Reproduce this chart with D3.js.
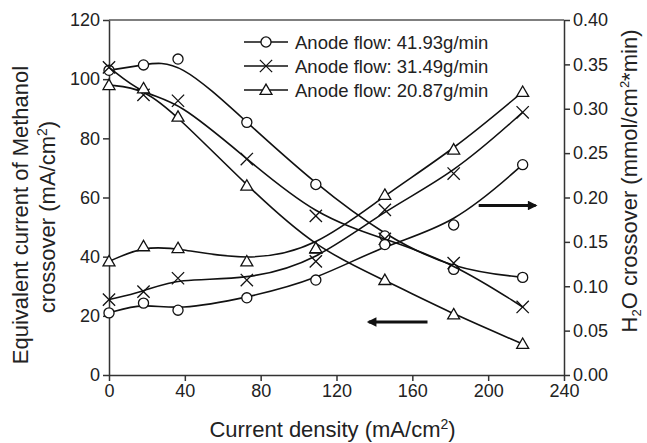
<!DOCTYPE html>
<html lang="en">
<head>
<meta charset="UTF-8">
<title>Methanol and H2O crossover</title>
<script src="https://d3js.org/d3.v7.min.js"></script>
<style>
    body { margin: 0; background: #fff; font-family: 'Liberation Sans', Arial, sans-serif; }
    .axis path, .axis line { stroke: #333; stroke-width: 1.5px; }
    .axis text { font-size: 18px; fill: #222; font-family: 'Liberation Sans', Arial, sans-serif; }
    .curve { fill: none; stroke: #111; stroke-width: 1.6px; }
    .title { font-size: 22px; fill: #222; }
</style>
</head>
<body>
<svg id="chart" width="647" height="443"></svg>
<script>
    // current density (mA/cm2)
    const currentDensity = [0, 18.2, 36.4, 72.7, 109.1, 145.5, 181.8, 218.2];

    // methanol crossover, equivalent current (mA/cm2), left axis
    const meoh4193 = [103.0, 104.8, 106.8, 85.4, 64.4, 47.0, 35.7, 33.0];
    const meoh3149 = [104.0, 94.7, 92.7, 73.0, 53.8, 46.0, 37.8, 23.0];
    const meoh2087 = [98.0, 96.9, 87.3, 64.0, 42.7, 32.1, 20.5, 10.5];

    // H2O crossover (mmol/cm2*min), right axis
    const h2o4193 = [0.070, 0.081, 0.073, 0.087, 0.107, 0.147, 0.169, 0.237];
    const h2o3149 = [0.085, 0.094, 0.109, 0.107, 0.128, 0.186, 0.227, 0.296];
    const h2o2087 = [0.128, 0.145, 0.143, 0.128, 0.143, 0.203, 0.254, 0.319];

    const seriesNames = ["Anode flow: 41.93g/min", "Anode flow: 31.49g/min", "Anode flow: 20.87g/min"];
    const markerTypes = ["circle", "cross", "triangle"];

    const xTicks = [0, 40, 80, 120, 160, 200, 240];
    const leftTicks = [0, 20, 40, 60, 80, 100, 120];
    const rightTicks = [0, 0.05, 0.10, 0.15, 0.20, 0.25, 0.30, 0.35, 0.40];

    const svg = d3.select("#chart");
    const margin = { left: 109, right: 83, top: 20, bottom: 68 };
    const width = 647 - margin.left - margin.right;
    const height = 443 - margin.top - margin.bottom;
    const g = svg.append("g").attr("transform", `translate(${margin.left},${margin.top})`);

    const x = d3.scaleLinear().domain([0, 240]).range([0, width]);
    const yL = d3.scaleLinear().domain([0, 120]).range([height, 0]);
    const yR = d3.scaleLinear().domain([0, 0.40]).range([height, 0]);

    // frame top line
    g.append("line").attr("x1", 0).attr("x2", width).attr("y1", 0).attr("y2", 0)
        .attr("stroke", "#555").attr("stroke-width", 1.5);

    g.append("g").attr("class", "axis")
        .attr("transform", `translate(0,${height})`)
        .call(d3.axisBottom(x).tickValues(xTicks).tickSize(6).tickPadding(3).tickSizeOuter(0));

    g.append("g").attr("class", "axis")
        .call(d3.axisLeft(yL).tickValues(leftTicks).tickSize(6).tickPadding(3).tickSizeOuter(0));

    g.append("g").attr("class", "axis")
        .attr("transform", `translate(${width},0)`)
        .call(d3.axisRight(yR).tickValues(rightTicks).tickSize(6).tickPadding(3).tickSizeOuter(0)
            .tickFormat(d3.format(".2f")));

    function markerPath(type) {
        if (type === "circle") return d3.symbol(d3.symbolCircle, 80)();
        if (type === "cross") return d3.symbol(d3.symbolX, 100)();
        return d3.symbol(d3.symbolTriangle, 62)();
    }

    function drawSeries(values, yScale, type) {
        const pts = currentDensity.map((c, i) => [x(c), yScale(values[i])]);
        g.append("path").attr("class", "curve")
            .attr("d", d3.line().curve(d3.curveBasis)(pts));
        g.selectAll(null).data(pts).enter().append("path")
            .attr("transform", d => `translate(${d[0]},${d[1] + (type === "triangle" ? 1 : 0)})`)
            .attr("d", markerPath(type))
            .attr("fill", type === "cross" ? "none" : "#fff")
            .attr("stroke", "#111").attr("stroke-width", 1.3);
    }

    [meoh4193, meoh3149, meoh2087].forEach((s, i) => drawSeries(s, yL, markerTypes[i]));
    [h2o4193, h2o3149, h2o2087].forEach((s, i) => drawSeries(s, yR, markerTypes[i]));

    // legend
    const legend = g.append("g").attr("transform", "translate(135,22)");
    seriesNames.forEach((name, i) => {
        const row = legend.append("g").attr("transform", `translate(0,${i * 24})`);
        row.append("line").attr("x1", 0).attr("x2", 44).attr("stroke", "#111").attr("stroke-width", 1.6);
        row.append("path").attr("transform", `translate(22,${markerTypes[i] === "triangle" ? 1 : 0})`)
            .attr("d", markerPath(markerTypes[i]))
            .attr("fill", markerTypes[i] === "cross" ? "none" : "#fff")
            .attr("stroke", "#111").attr("stroke-width", 1.3);
        row.append("text").attr("x", 51).attr("y", 6.5)
            .attr("font-size", 18.5).attr("fill", "#222").text(name);
    });

    // arrows pointing to each axis
    svg.append("defs").append("marker").attr("id", "head")
        .attr("viewBox", "0 0 10 10").attr("refX", 8).attr("refY", 5)
        .attr("markerWidth", 4).attr("markerHeight", 3.2).attr("orient", "auto")
        .append("path").attr("d", "M0,0L10,5L0,10Z").attr("fill", "#111");
    g.append("line")
        .attr("x1", x(195)).attr("x2", x(225)).attr("y1", yR(0.191)).attr("y2", yR(0.191))
        .attr("stroke", "#111").attr("stroke-width", 3).attr("marker-end", "url(#head)");
    g.append("line")
        .attr("x1", x(168)).attr("x2", x(137)).attr("y1", yL(17.9)).attr("y2", yL(17.9))
        .attr("stroke", "#111").attr("stroke-width", 3).attr("marker-end", "url(#head)");

    // axis titles
    const xTitle = svg.append("text").attr("class", "title")
        .attr("x", margin.left + width / 2 - 4).attr("y", 437).attr("text-anchor", "middle");
    xTitle.append("tspan").text("Current density (mA/cm");
    xTitle.append("tspan").attr("font-size", 14).attr("dy", -8).text("2");
    xTitle.append("tspan").attr("dy", 8).text(")");

    svg.append("text").attr("class", "title")
        .attr("transform", "translate(28,215) rotate(-90)").attr("text-anchor", "middle")
        .text("Equivalent current of Methanol");
    const yT2 = svg.append("text").attr("class", "title")
        .attr("transform", "translate(55,217) rotate(-90)").attr("text-anchor", "middle");
    yT2.append("tspan").text("crossover (mA/cm");
    yT2.append("tspan").attr("font-size", 14).attr("dy", -8).text("2");
    yT2.append("tspan").attr("dy", 8).text(")");

    const yR2 = svg.append("text").attr("class", "title")
        .attr("font-size", 21)
        .attr("transform", "translate(637,181) rotate(-90)").attr("text-anchor", "middle");
    yR2.append("tspan").text("H");
    yR2.append("tspan").attr("font-size", 13).attr("dy", 4).text("2");
    yR2.append("tspan").attr("dy", -4).text("O crossover (mmol/cm");
    yR2.append("tspan").attr("font-size", 13).attr("dy", -8).text("2");
    yR2.append("tspan").attr("dy", 8).text("*min)");
</script>
</body>
</html>
